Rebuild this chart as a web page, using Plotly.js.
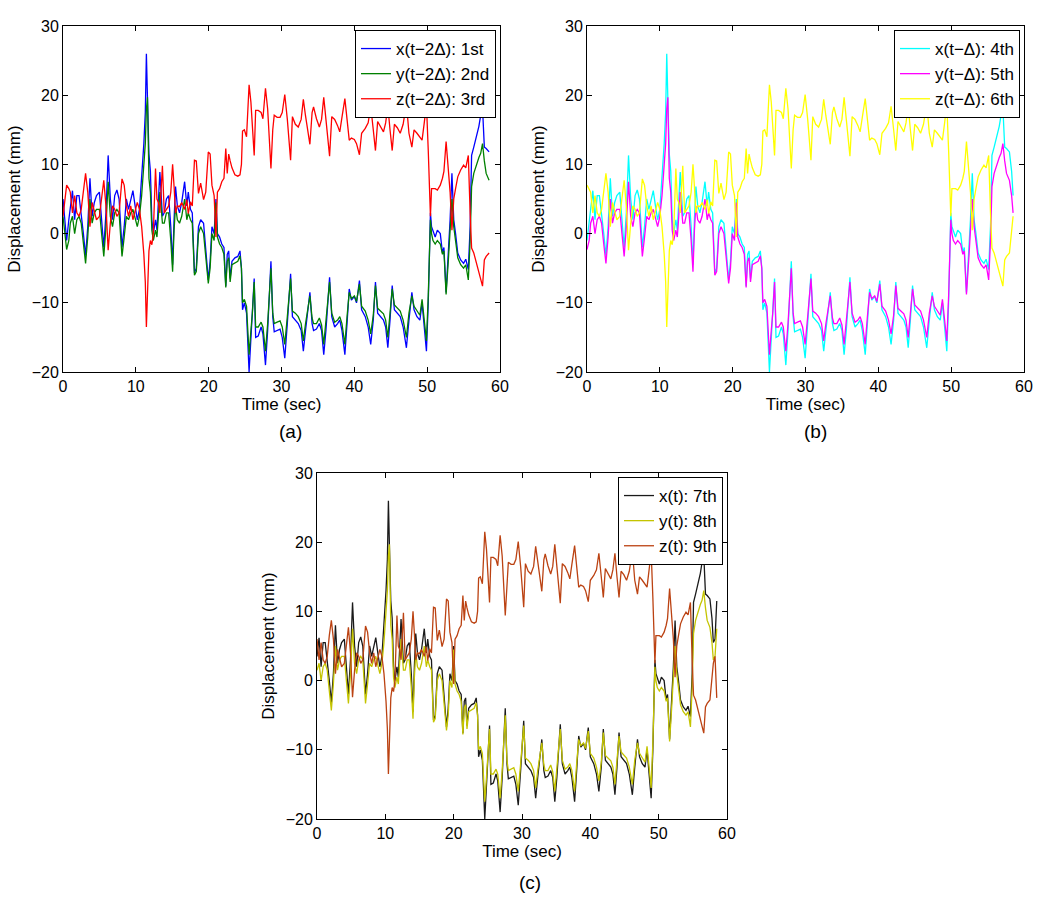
<!DOCTYPE html>
<html>
<head>
<meta charset="utf-8">
<script src="https://cdn.plot.ly/plotly-3.0.1.min.js"></script>
<style>html,body{margin:0;padding:0;background:#fff;}</style>
</head>
<body>
<div id="chart" style="width:1050px;height:898px;"></div>
<script>
// Sample times on the time axis of panel (a) (seconds)
const timeA = [
  0,0.3,0.5,0.8,1.0,1.3,1.6,1.9,2.2,2.5,2.8,3.1,3.4,3.7,4.0,4.3,4.6,5.0,5.3,5.6,
  5.9,6.2,6.5,6.8,7.1,7.4,7.7,8.1,8.4,8.7,9.0,9.3,9.6,9.9,10.2,10.5,10.8,11.1,11.3,11.45,
  11.6,11.8,12.0,12.2,12.4,12.7,12.9,13.1,13.3,13.65,13.9,14.2,14.5,14.8,15.05,15.25,15.45,15.7,16.0,16.3,
  16.7,17.0,17.2,17.5,17.75,18.05,18.3,18.6,18.9,19.3,19.6,19.95,20.2,20.45,20.75,21.0,21.2,21.5,21.8,22.1,
  22.35,22.55,22.75,22.95,23.2,23.6,24.0,24.3,
  24.5,24.65,24.9,25.2,25.55,25.8,26.0,26.25,26.45,26.8,27.2,27.45,27.8,28.1,28.55,28.8,29.0,29.4,29.8,30.1,
  30.45,30.8,31.25,31.5,31.9,32.3,32.7,33.0,33.3,33.9,34.2,34.4,34.8,35.2,35.5,35.8,36.1,36.6,36.9,37.3,
  37.7,38.0,38.3,38.7,39.0,39.3,39.6,40.0,40.3,40.7,41.0,41.5,41.9,42.25,42.6,42.9,43.2,43.6,44.0,44.3,
  44.6,44.9,45.2,45.5,45.9,46.3,46.7,47.15,47.5,47.9,48.2,48.6,49.0,49.3,49.6,49.9,
  50.15,50.35,50.45,50.6,50.8,51.1,51.4,51.8,52.1,52.3,52.6,52.9,53.15,53.4,53.65,53.9,54.2,54.6,55.0,55.3,
  55.65,55.9,56.1,56.4,56.8,57.1,57.35,57.6,57.85,58.1,58.5,58.8,59.0,59.25,59.5
];
// x displacement (mm)
const xSeries = [
  5,1,-1,2,3.5,6.2,2,5.5,5.5,3,0,-3.2,1,8,2.5,4.5,5.5,6,2,-2,
  3,11.3,5,2,5.5,6.3,5,-2,1,5,3.5,5,6.2,4,2,3.5,8,13,17.5,26,
  19.5,11.5,9,2,0,2,0.5,4,8.9,2.5,3,5,5.5,1,-4.5,2,6.8,4,3,4.5,
  7.5,4,6,3.5,3,-5.7,-5,1,2,1.5,-2,-6.7,-4,1,0,5,0,-0.5,-1.5,-2,
  -7.6,-3,-2.5,-6.5,-4,-3.5,-3.3,-2.5,
  -5,-11,-10,-11.5,-20,-15,-12,-6.5,-15,-14.8,-13.5,-14.5,-19,-14,-4,-12,-14.2,-14,-13.8,-15,
  -18,-13,-5.8,-12,-12.5,-13,-14,-17,-14,-8.5,-13,-14,-13.8,-13,-14,-17.5,-14,-6.3,-12,-13.5,
  -13,-12.5,-14,-17.5,-13,-8,-9.6,-9.1,-10,-6.8,-11,-12,-13.5,-16,-12.5,-7,-11.5,-12,-12.5,-13.5,
  -16.5,-12.5,-7.5,-11,-11.5,-12,-13.5,-16.5,-12.5,-8.5,-11,-12,-12.5,-10,-13.5,-17,
  -10,0.5,3,1,0.3,-0.5,0.5,0,-2.8,-2,-8.5,-3,2,8.7,2,0,-2.8,-3.8,-4.3,-3.7,
  -5.2,1,11.3,12.5,14.2,15.5,17.1,18.2,12.5,12.3,11.8,9,5.5,6,11.5
];
// y displacement (mm)
const ySeries = [
  2.5,-1,-2.3,-1,1.5,2.5,0,2,2.5,1.5,-1.5,-4.3,-0.5,5,1.5,3,3.5,3.5,0,-3.3,
  1,7.5,2.5,1,3,3.5,3,-3.3,-0.5,2.5,2,3,3.5,2,1,2.5,5.5,10,13,18,
  19.7,8,6,0.5,-1,0.5,-0.5,2.5,6,1.5,1.5,3,3,-1,-5.5,0.5,4,2,1.5,2.5,
  5,2,3,2,1.5,-6,-5.5,0,1,0,-3,-7.2,-5,0,-1,4.5,-0.5,-1.5,-2,-3,
  -7.8,-4,-3.5,-7,-4.5,-4.2,-4,-3.2,
  -5,-10,-9.5,-10.5,-17.5,-14,-11.5,-7,-13.5,-13.5,-12.8,-13.5,-17,-13,-5,-11.5,-13,-12.8,-12.6,-13.5,
  -16,-12,-6.5,-11.2,-11.5,-12,-13,-15.5,-13,-9,-12.2,-13,-13,-12.2,-13.2,-16,-13,-7,-11.5,-12.8,
  -12.5,-12,-13,-16,-12,-8.5,-9.4,-9,-9.8,-7.3,-10.5,-11.2,-12.5,-14.5,-11.8,-7.5,-10.8,-11.2,-11.6,-12.5,
  -15,-11.5,-8,-10.3,-10.8,-11.2,-12.5,-15,-11.5,-9,-10.5,-11.2,-11.8,-9.5,-12.5,-15.5,
  -9,1,2,0,-1,-1.5,-1,-1.5,-3,-2.5,-8.8,-4,1,5,1,-1.5,-3.5,-4.5,-5,-4.5,
  -6.7,-1,6.8,8.7,10.2,11,11.6,13,10.5,8.7,7.7,5.5,3,3.5,7.5
];
// z displacement (mm)
const zSeries = [
  2.5,5,7,6.5,6,3,5.5,3,2.5,3.5,6.5,8.7,6,1,4.5,3,2,2.5,5,7.7,
  4,-2.4,1.5,4,3.5,2.5,3,7.9,7,4,2.5,4,2,3.5,4.5,3.5,1,-3,-7,-13.5,
  -9,-2.5,-1,-1.6,0,9.4,5,4.5,3,9.8,3,3.5,4,6,10,6.8,3,4,3.9,4.5,
  3.5,4.9,2.9,4.6,4,10.6,10.5,5.8,7.3,4.9,6,11.8,11.5,7,5.5,-0.5,6,6.5,7.5,8,
  12.3,8.7,11.5,10.5,9.5,8.5,8.3,8.5,
  10,14.8,15,14,21.5,19,15,11.3,17.8,17.8,17.5,16.6,21,18,9.4,15,17.1,16.8,16.8,17.5,
  20.1,16.5,10.6,16.9,15.8,15.4,16.5,19.4,17,12.9,17.5,18.3,16.6,15.4,16.5,19.7,16.5,11.2,16.9,16.5,
  15.6,14.7,16.8,19.5,16.5,13.5,13.8,13.6,13,11.4,14.5,15.2,16,18.4,15,12,16.2,15.5,14.7,16,
  18.4,15,12,15.8,15.3,14.5,15.8,18.8,14.5,12.5,15,14.5,14,13.5,16,18.7,
  12,4,2.5,6.5,6.5,6.5,6.3,7,8,9,13.3,9,6,0.5,5,6.5,8.2,9.2,9.9,9.5,
  11.3,3,-2.1,-2.8,-4.3,-5.5,-6.6,-7.6,-3.8,-3.3,-2.8,0,2.5,3.5,-2.5
];

const DELTA = 0.5;          // embedding delay (s)
const T_END = 58.5;          // last plotted time (s)
const lagSteps = [0, 1, 2];  // panels (a), (b), (c)
const legendNames = [
  ['x(t\u22122\u0394): 1st', 'y(t\u22122\u0394): 2nd', 'z(t\u22122\u0394): 3rd'],
  ['x(t\u2212\u0394): 4th', 'y(t\u2212\u0394): 5th', 'z(t\u2212\u0394): 6th'],
  ['x(t): 7th', 'y(t): 8th', 'z(t): 9th']
];
const panelLabels = ['(a)', '(b)', '(c)'];
const xTicks = [0, 10, 20, 30, 40, 50, 60];
const yTicks = [-20, -10, 0, 10, 20, 30];

const lineColors = [
  ['#0000ff', '#008000', '#ff0000'],
  ['#00ffff', '#ff00ff', '#ffff00'],
  ['#1a1a1a', '#c4c400', '#bb4212']
];

const FONT = '"Liberation Sans", Arial, Helvetica, sans-serif';
const W = 1050, H = 898;
// plot boxes in pixels: [left, right, top, bottom]
const boxes = [[63, 500, 26, 372], [587, 1024, 26, 372], [317, 727, 473, 819]];
const labelPos = [[290, 431], [815, 431], [530, 882]];

const series = [xSeries, ySeries, zSeries];
const traces = [];
lagSteps.forEach((k, p) => {
  const shift = k * DELTA;
  const idx = [];
  timeA.forEach((t, i) => {
    const tt = t - shift;
    if (tt >= -1e-9 && tt <= T_END + 1e-9) idx.push(i);
  });
  const xs = idx.map(i => timeA[i] - shift);
  series.forEach((s, j) => {
    traces.push({
      type: 'scatter', mode: 'lines',
      x: xs, y: idx.map(i => s[i]),
      name: legendNames[p][j],
      line: {color: lineColors[p][j], width: 1.3},
      xaxis: p === 0 ? 'x' : 'x' + (p + 1),
      yaxis: p === 0 ? 'y' : 'y' + (p + 1),
      legend: p === 0 ? 'legend' : 'legend' + (p + 1),
      hoverinfo: 'skip'
    });
  });
});

const axisCommon = {
  showline: true, linecolor: '#000', linewidth: 1, mirror: 'ticks',
  ticks: 'inside', ticklen: 5, tickwidth: 1, tickcolor: '#000',
  showgrid: false, zeroline: false,
  tickfont: {family: FONT, size: 16, color: '#000'}
};

const layout = {
  width: W, height: H,
  margin: {l: 0, r: 0, t: 0, b: 0},
  paper_bgcolor: '#fff', plot_bgcolor: '#fff',
  font: {family: FONT, color: '#000'},
  annotations: [],
  showlegend: true
};

boxes.forEach((b, p) => {
  const sfx = p === 0 ? '' : String(p + 1);
  layout['xaxis' + sfx] = Object.assign({}, axisCommon, {
    domain: [b[0] / W, b[1] / W], anchor: 'y' + sfx,
    range: [0, 60], tickmode: 'array', tickvals: xTicks,
    title: {text: 'Time (sec)', font: {family: FONT, size: 17, color: '#000'}, standoff: 1}
  });
  layout['yaxis' + sfx] = Object.assign({}, axisCommon, {
    domain: [(H - b[3]) / H, (H - b[2]) / H], anchor: 'x' + sfx,
    range: [-20, 30], tickmode: 'array', tickvals: yTicks,
    title: {text: 'Displacement (mm)', font: {family: FONT, size: 17, color: '#000'}, standoff: 6}
  });
  layout['legend' + sfx] = {
    x: (b[1] - 4) / W, xanchor: 'right',
    y: (H - b[2] - 4) / H, yanchor: 'top',
    bgcolor: '#fff', bordercolor: '#000', borderwidth: 1,
    font: {family: FONT, size: 17, color: '#000'},
    itemwidth: 30, tracegroupgap: 0
  };
  layout.annotations.push({
    text: panelLabels[p], xref: 'paper', yref: 'paper',
    x: labelPos[p][0] / W, y: (H - labelPos[p][1]) / H,
    xanchor: 'center', yanchor: 'middle', showarrow: false,
    font: {family: FONT, size: 19, color: '#000'}
  });
});

Plotly.newPlot('chart', traces, layout, {displayModeBar: false, staticPlot: true});
</script>
</body>
</html>
